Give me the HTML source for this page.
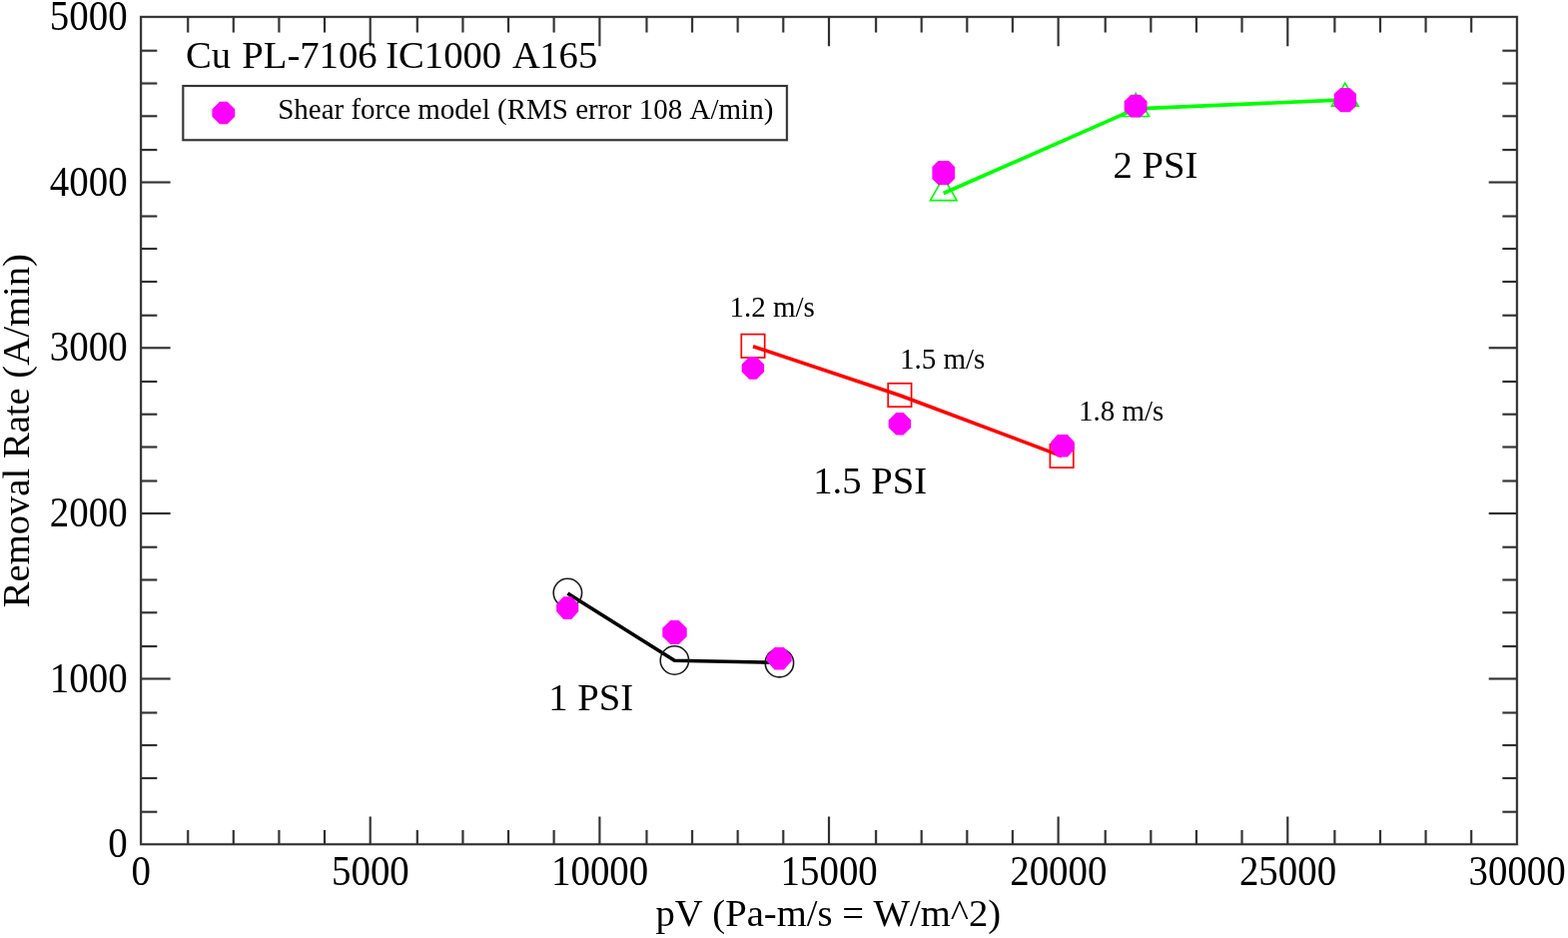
<!DOCTYPE html>
<html lang="en"><head><meta charset="utf-8"><title>Cu PL-7106 IC1000 A165</title>
<style>
html,body{margin:0;padding:0;background:#fff;}
body{width:1570px;height:939px;overflow:hidden;}
svg{display:block;}
text{font-family:"Liberation Serif",serif;fill:#000;font-kerning:none;white-space:pre;}
.b{font-size:38.65px;}
.s{font-size:29.00px;}
.t{font-size:38.9px;}
</style></head><body>
<svg width="1570" height="939" viewBox="0 0 1570 939" role="img" aria-label="Removal rate versus pV chart">
<rect x="0" y="0" width="1570" height="939" fill="#fff"/>
<g>
<path d="M188.20 16.90v15.70M188.20 845.20v-14.10M233.80 16.90v15.70M233.80 845.20v-14.10M279.40 16.90v15.70M279.40 845.20v-14.10M325.00 16.90v15.70M325.00 845.20v-14.10M370.73 16.90v29.40M370.73 845.20v-27.70M417.83 16.90v15.70M417.83 845.20v-14.10M463.43 16.90v15.70M463.43 845.20v-14.10M509.03 16.90v15.70M509.03 845.20v-14.10M554.63 16.90v15.70M554.63 845.20v-14.10M600.37 16.90v29.40M600.37 845.20v-27.70M647.47 16.90v15.70M647.47 845.20v-14.10M693.07 16.90v15.70M693.07 845.20v-14.10M738.67 16.90v15.70M738.67 845.20v-14.10M784.27 16.90v15.70M784.27 845.20v-14.10M830.00 16.90v29.40M830.00 845.20v-27.70M877.10 16.90v15.70M877.10 845.20v-14.10M922.70 16.90v15.70M922.70 845.20v-14.10M968.30 16.90v15.70M968.30 845.20v-14.10M1013.90 16.90v15.70M1013.90 845.20v-14.10M1059.63 16.90v29.40M1059.63 845.20v-27.70M1106.73 16.90v15.70M1106.73 845.20v-14.10M1152.33 16.90v15.70M1152.33 845.20v-14.10M1197.93 16.90v15.70M1197.93 845.20v-14.10M1243.53 16.90v15.70M1243.53 845.20v-14.10M1289.27 16.90v29.40M1289.27 845.20v-27.70M1336.37 16.90v15.70M1336.37 845.20v-14.10M1381.97 16.90v15.70M1381.97 845.20v-14.10M1427.57 16.90v15.70M1427.57 845.20v-14.10M1473.17 16.90v15.70M1473.17 845.20v-14.10M141.10 50.80h16.20M1518.90 50.80h-14.50M141.10 83.40h16.20M1518.90 83.40h-14.50M141.10 116.30h16.20M1518.90 116.30h-14.50M141.10 150.10h16.20M1518.90 150.10h-14.50M141.10 182.56h29.50M1518.90 182.56h-28.20M141.10 216.46h16.20M1518.90 216.46h-14.50M141.10 249.06h16.20M1518.90 249.06h-14.50M141.10 281.96h16.20M1518.90 281.96h-14.50M141.10 315.76h16.20M1518.90 315.76h-14.50M141.10 348.22h29.50M1518.90 348.22h-28.20M141.10 382.12h16.20M1518.90 382.12h-14.50M141.10 414.72h16.20M1518.90 414.72h-14.50M141.10 447.62h16.20M1518.90 447.62h-14.50M141.10 481.42h16.20M1518.90 481.42h-14.50M141.10 513.88h29.50M1518.90 513.88h-28.20M141.10 547.78h16.20M1518.90 547.78h-14.50M141.10 580.38h16.20M1518.90 580.38h-14.50M141.10 613.28h16.20M1518.90 613.28h-14.50M141.10 647.08h16.20M1518.90 647.08h-14.50M141.10 679.54h29.50M1518.90 679.54h-28.20M141.10 713.44h16.20M1518.90 713.44h-14.50M141.10 746.04h16.20M1518.90 746.04h-14.50M141.10 778.94h16.20M1518.90 778.94h-14.50M141.10 812.74h16.20M1518.90 812.74h-14.50" stroke="rgba(0,0,0,0.10)" stroke-width="3.60" fill="none"/>
<rect x="141.10" y="16.90" width="1377.80" height="828.30" fill="none" stroke="rgba(0,0,0,0.10)" stroke-width="3.60"/>
<path d="M188.20 16.90v15.70M188.20 845.20v-14.10M233.80 16.90v15.70M233.80 845.20v-14.10M279.40 16.90v15.70M279.40 845.20v-14.10M325.00 16.90v15.70M325.00 845.20v-14.10M370.73 16.90v29.40M370.73 845.20v-27.70M417.83 16.90v15.70M417.83 845.20v-14.10M463.43 16.90v15.70M463.43 845.20v-14.10M509.03 16.90v15.70M509.03 845.20v-14.10M554.63 16.90v15.70M554.63 845.20v-14.10M600.37 16.90v29.40M600.37 845.20v-27.70M647.47 16.90v15.70M647.47 845.20v-14.10M693.07 16.90v15.70M693.07 845.20v-14.10M738.67 16.90v15.70M738.67 845.20v-14.10M784.27 16.90v15.70M784.27 845.20v-14.10M830.00 16.90v29.40M830.00 845.20v-27.70M877.10 16.90v15.70M877.10 845.20v-14.10M922.70 16.90v15.70M922.70 845.20v-14.10M968.30 16.90v15.70M968.30 845.20v-14.10M1013.90 16.90v15.70M1013.90 845.20v-14.10M1059.63 16.90v29.40M1059.63 845.20v-27.70M1106.73 16.90v15.70M1106.73 845.20v-14.10M1152.33 16.90v15.70M1152.33 845.20v-14.10M1197.93 16.90v15.70M1197.93 845.20v-14.10M1243.53 16.90v15.70M1243.53 845.20v-14.10M1289.27 16.90v29.40M1289.27 845.20v-27.70M1336.37 16.90v15.70M1336.37 845.20v-14.10M1381.97 16.90v15.70M1381.97 845.20v-14.10M1427.57 16.90v15.70M1427.57 845.20v-14.10M1473.17 16.90v15.70M1473.17 845.20v-14.10M141.10 50.80h16.20M1518.90 50.80h-14.50M141.10 83.40h16.20M1518.90 83.40h-14.50M141.10 116.30h16.20M1518.90 116.30h-14.50M141.10 150.10h16.20M1518.90 150.10h-14.50M141.10 182.56h29.50M1518.90 182.56h-28.20M141.10 216.46h16.20M1518.90 216.46h-14.50M141.10 249.06h16.20M1518.90 249.06h-14.50M141.10 281.96h16.20M1518.90 281.96h-14.50M141.10 315.76h16.20M1518.90 315.76h-14.50M141.10 348.22h29.50M1518.90 348.22h-28.20M141.10 382.12h16.20M1518.90 382.12h-14.50M141.10 414.72h16.20M1518.90 414.72h-14.50M141.10 447.62h16.20M1518.90 447.62h-14.50M141.10 481.42h16.20M1518.90 481.42h-14.50M141.10 513.88h29.50M1518.90 513.88h-28.20M141.10 547.78h16.20M1518.90 547.78h-14.50M141.10 580.38h16.20M1518.90 580.38h-14.50M141.10 613.28h16.20M1518.90 613.28h-14.50M141.10 647.08h16.20M1518.90 647.08h-14.50M141.10 679.54h29.50M1518.90 679.54h-28.20M141.10 713.44h16.20M1518.90 713.44h-14.50M141.10 746.04h16.20M1518.90 746.04h-14.50M141.10 778.94h16.20M1518.90 778.94h-14.50M141.10 812.74h16.20M1518.90 812.74h-14.50" stroke="#303030" stroke-width="2.00" fill="none"/>
<rect x="141.10" y="16.90" width="1377.80" height="828.30" fill="none" stroke="#303030" stroke-width="2.00"/>
<text class="t" transform="translate(141.3 885.6) scale(1 1.080)" text-anchor="middle">0</text>
<text class="t" transform="translate(370.9 885.6) scale(1 1.080)" text-anchor="middle">5000</text>
<text class="t" transform="translate(600.6 885.6) scale(1 1.080)" text-anchor="middle">10000</text>
<text class="t" transform="translate(830.2 885.6) scale(1 1.080)" text-anchor="middle">15000</text>
<text class="t" transform="translate(1059.8 885.6) scale(1 1.080)" text-anchor="middle">20000</text>
<text class="t" transform="translate(1289.5 885.6) scale(1 1.080)" text-anchor="middle">25000</text>
<text class="t" transform="translate(1519.1 885.6) scale(1 1.080)" text-anchor="middle">30000</text>
<text class="t" transform="translate(127.6 30.1) scale(1 1.080)" text-anchor="end">5000</text>
<text class="t" transform="translate(127.6 195.8) scale(1 1.080)" text-anchor="end">4000</text>
<text class="t" transform="translate(127.6 361.4) scale(1 1.080)" text-anchor="end">3000</text>
<text class="t" transform="translate(127.6 527.1) scale(1 1.080)" text-anchor="end">2000</text>
<text class="t" transform="translate(127.6 692.7) scale(1 1.080)" text-anchor="end">1000</text>
<text class="t" transform="translate(127.6 858.4) scale(1 1.080)" text-anchor="end">0</text>
<text class="b" x="829.3" y="927.2" text-anchor="middle">pV (Pa-m/s = W/m^2)</text>
<text class="b" transform="translate(28.7 431.2) rotate(-90)" text-anchor="middle">Removal Rate (A/min)</text>
<text class="b" y="68.4"><tspan x="186.0">Cu </tspan><tspan x="242.3">PL-7106 </tspan><tspan x="386.2">IC1000 </tspan><tspan x="513.1">A</tspan><tspan x="540.3">165</tspan></text>
<rect x="183.3" y="86.0" width="604.6" height="54.2" fill="#fff" stroke="rgba(0,0,0,0.10)" stroke-width="3.6"/>
<rect x="183.3" y="86.0" width="604.6" height="54.2" fill="none" stroke="#333" stroke-width="2.0"/>
<text class="s" x="278.2" y="119.0">Shear force model (RMS error 108 A/min)</text>
<polyline points="568.4,594.1 675.4,661.3 780.4,663.4" fill="none" stroke="#000" stroke-width="3.6" stroke-linejoin="round"/>
<circle cx="568.4" cy="593.5" r="14.2" fill="none" stroke="#1a1a1a" stroke-width="1.6"/>
<circle cx="675.4" cy="661.0" r="14.2" fill="none" stroke="#1a1a1a" stroke-width="1.6"/>
<circle cx="780.4" cy="663.7" r="14.2" fill="none" stroke="#1a1a1a" stroke-width="1.6"/>
<polyline points="754.0,346.8 900.9,395.8 1063.1,456.6" fill="none" stroke="#ff0000" stroke-width="3.6" stroke-linejoin="round"/>
<rect x="742.3" y="334.6" width="23.4" height="23.4" fill="none" stroke="#ff0000" stroke-width="1.7"/>
<rect x="889.2" y="383.8" width="23.4" height="23.4" fill="none" stroke="#ff0000" stroke-width="1.7"/>
<rect x="1051.4" y="444.7" width="23.4" height="23.4" fill="none" stroke="#ff0000" stroke-width="1.7"/>
<polyline points="944.7,193.5 1137.2,108.9 1346.6,99.9" fill="none" stroke="#00ff00" stroke-width="3.6" stroke-linejoin="round"/>
<polygon points="944.7,177.6 931.4,200.7 958.0,200.7" fill="none" stroke="#00ff00" stroke-width="1.7"/>
<polygon points="1137.2,93.4 1123.9,116.5 1150.5,116.5" fill="none" stroke="#00ff00" stroke-width="1.7"/>
<polygon points="1346.8,83.1 1333.5,106.2 1360.1,106.2" fill="none" stroke="#00ff00" stroke-width="1.7"/>
<polygon points="564.20,597.30 572.20,597.30 579.30,605.10 579.30,612.10 572.20,619.90 564.20,619.90 557.10,612.10 557.10,605.10" fill="#ff00ff"/>
<polygon points="671.30,620.90 679.70,620.90 687.70,628.80 687.70,637.20 679.70,645.10 671.30,645.10 663.30,637.20 663.30,628.80" fill="#ff00ff"/>
<polygon points="775.60,647.90 784.80,647.90 792.70,656.60 792.70,661.80 784.80,670.50 775.60,670.50 767.70,661.80 767.70,656.60" fill="#ff00ff"/>
<polygon points="750.30,357.30 757.50,357.30 765.10,364.70 765.10,372.30 757.50,379.70 750.30,379.70 742.70,372.30 742.70,364.70" fill="#ff00ff"/>
<polygon points="897.30,413.10 904.50,413.10 912.15,420.50 912.15,428.10 904.50,435.50 897.30,435.50 889.65,428.10 889.65,420.50" fill="#ff00ff"/>
<polygon points="1058.90,434.90 1068.90,434.90 1075.70,442.50 1075.70,449.90 1068.90,457.50 1058.90,457.50 1052.10,449.90 1052.10,442.50" fill="#ff00ff"/>
<polygon points="939.40,161.00 950.00,161.00 956.00,167.00 956.00,179.00 950.00,185.00 939.40,185.00 933.40,179.00 933.40,167.00" fill="#ff00ff"/>
<polygon points="1132.40,94.65 1141.80,94.65 1148.55,101.40 1148.55,110.80 1141.80,117.55 1132.40,117.55 1125.65,110.80 1125.65,101.40" fill="#ff00ff"/>
<polygon points="1342.30,87.90 1351.50,87.90 1358.10,94.10 1358.10,106.10 1351.50,112.30 1342.30,112.30 1335.70,106.10 1335.70,94.10" fill="#ff00ff"/>
<polygon points="220.00,101.70 227.60,101.70 235.20,109.20 235.20,116.80 227.60,124.30 220.00,124.30 212.40,116.80 212.40,109.20" fill="#ff00ff"/>
<text class="b" x="1114.5" y="178.3">2 PSI</text>
<text class="b" x="814.3" y="494.2">1.5 PSI</text>
<text class="b" x="549.2" y="710.7">1 PSI</text>
<text class="s" x="730.5" y="317.3">1.2 m/s</text>
<text class="s" x="901.0" y="369.2">1.5 m/s</text>
<text class="s" x="1079.9" y="420.6">1.8 m/s</text>
</g>
</svg>
</body></html>
